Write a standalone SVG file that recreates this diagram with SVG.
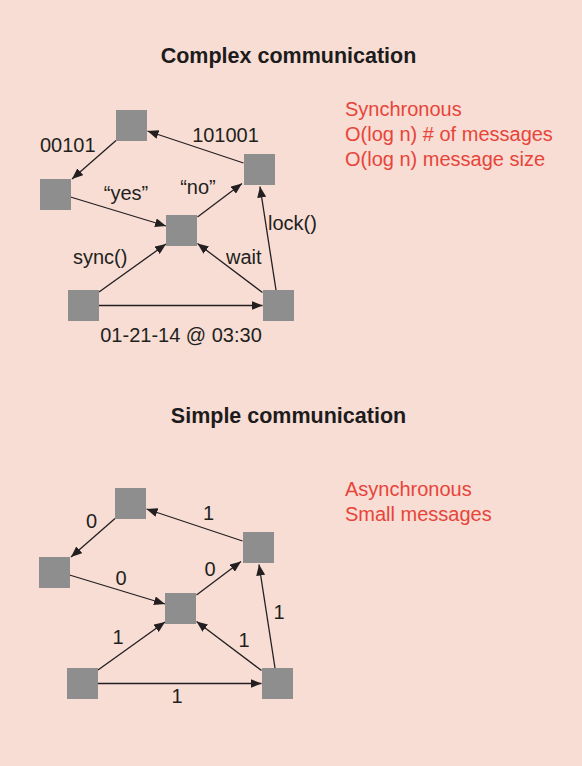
<svg xmlns="http://www.w3.org/2000/svg" width="582" height="766" viewBox="0 0 582 766">
<style>
.bg{fill:#f7ddd4}
.n{fill:#8e8e8e}
.e{stroke:#231f20;stroke-width:1.3;fill:none;marker-end:url(#ah)}
.t{font-family:"Liberation Sans",Arial,sans-serif;font-size:20px;fill:#231f20}
.h{font-family:"Liberation Sans",Arial,sans-serif;font-size:21.5px;font-weight:bold;fill:#1e1b1c;text-anchor:middle}
.r{font-family:"Liberation Sans",Arial,sans-serif;font-size:20px;fill:#e8443a}
.m{text-anchor:middle}
</style>
<defs>
<marker id="ah" markerUnits="userSpaceOnUse" markerWidth="11" markerHeight="9" refX="11" refY="4.5" orient="auto">
<path d="M0,0 L11,4.5 L0,9 z" fill="#231f20"/>
</marker>
</defs>
<rect class="bg" x="0" y="0" width="582" height="766"/>

<text class="h" x="288.5" y="62.5">Complex communication</text>
<g id="notes1">
<text class="r" x="345" y="116">Synchronous</text>
<text class="r" x="345" y="141">O(log n) # of messages</text>
<text class="r" x="345" y="166">O(log n) message size</text>
</g>

<g id="diagram1">
<g id="connectors1">
<line class="e" x1="116" y1="140.5" x2="72" y2="179"/>
<line class="e" x1="243.5" y1="163" x2="147.5" y2="131"/>
<line class="e" x1="70.5" y1="197" x2="166" y2="226"/>
<line class="e" x1="197.5" y1="217" x2="242" y2="183.5"/>
<line class="e" x1="99" y1="292" x2="166" y2="244"/>
<line class="e" x1="262.5" y1="292.5" x2="197.5" y2="243.5"/>
<line class="e" x1="276" y1="290" x2="260" y2="186.5"/>
<line class="e" x1="99" y1="305.5" x2="262.5" y2="305.5"/>
</g>
<g id="c-a"><rect class="n" x="116" y="110" width="31" height="31"/></g>
<g id="c-b"><rect class="n" x="40" y="179" width="31" height="31"/></g>
<g id="c-c"><rect class="n" x="244" y="154" width="31" height="31"/></g>
<g id="c-d"><rect class="n" x="166" y="215" width="31" height="31"/></g>
<g id="c-e"><rect class="n" x="68" y="290" width="31" height="31"/></g>
<g id="c-f"><rect class="n" x="263" y="290" width="31" height="31"/></g>
<g id="labels1">
<text class="t" x="40" y="151.5">00101</text>
<text class="t m" x="225.5" y="141.5">101001</text>
<text class="t m" x="126" y="200">“yes”</text>
<text class="t m" x="198" y="194">“no”</text>
<text class="t" x="268" y="230">lock()</text>
<text class="t" x="73" y="264">sync()</text>
<text class="t" x="226" y="264">wait</text>
<text class="t m" x="181" y="341.5">01-21-14 @ 03:30</text>
</g>
</g>

<text class="h" x="288.5" y="422.5">Simple communication</text>
<g id="notes2">
<text class="r" x="345" y="496">Asynchronous</text>
<text class="r" x="345" y="520.5">Small messages</text>
</g>

<g id="diagram2" transform="translate(-1,378)">
<g id="connectors2">
<line class="e" x1="116" y1="140.5" x2="72" y2="179"/>
<line class="e" x1="243.5" y1="163" x2="147.5" y2="131"/>
<line class="e" x1="70.5" y1="197" x2="166" y2="226"/>
<line class="e" x1="197.5" y1="217" x2="242" y2="183.5"/>
<line class="e" x1="99" y1="292" x2="166" y2="244"/>
<line class="e" x1="262.5" y1="292.5" x2="197.5" y2="243.5"/>
<line class="e" x1="276" y1="290" x2="260" y2="186.5"/>
<line class="e" x1="99" y1="305.5" x2="262.5" y2="305.5"/>
</g>
<g id="s-a"><rect class="n" x="116" y="110" width="31" height="31"/></g>
<g id="s-b"><rect class="n" x="40" y="179" width="31" height="31"/></g>
<g id="s-c"><rect class="n" x="244" y="154" width="31" height="31"/></g>
<g id="s-d"><rect class="n" x="166" y="215" width="31" height="31"/></g>
<g id="s-e"><rect class="n" x="68" y="290" width="31" height="31"/></g>
<g id="s-f"><rect class="n" x="263" y="290" width="31" height="31"/></g>
<g id="labels2">
<text class="t m" x="92.5" y="149.5">0</text>
<text class="t m" x="209.5" y="142">1</text>
<text class="t m" x="122" y="207">0</text>
<text class="t m" x="211" y="197.5">0</text>
<text class="t m" x="280" y="241">1</text>
<text class="t m" x="119" y="265.5">1</text>
<text class="t m" x="245" y="268.5">1</text>
<text class="t m" x="178" y="325">1</text>
</g>
</g>
</svg>
